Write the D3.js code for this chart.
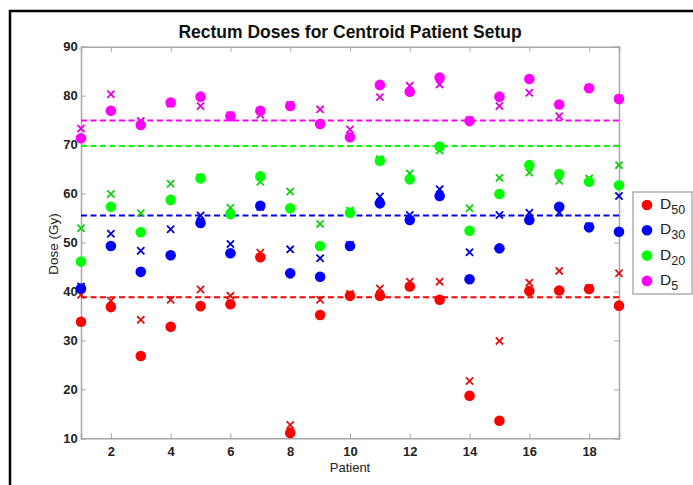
<!DOCTYPE html>
<html>
<head>
<meta charset="utf-8">
<script src="https://cdn.jsdelivr.net/npm/d3@7"></script>
<style>
  html, body { margin: 0; padding: 0; background: #fff; }
  svg { display: block; font-family: "Liberation Sans", Arial, Helvetica, sans-serif; }
</style>
</head>
<body>
<svg id="chart" width="693" height="485"></svg>
<script>
// Patients 1..19
const patients = d3.range(1, 20);

// Dose metrics (Gy) per patient: circles = centroid setup, crosses = reference plan
const d50Circle = [33.8, 36.8, 26.8, 32.8, 37.0, 37.4, 47.0, 11.1, 35.2, 39.1, 39.1, 41.0, 38.3, 18.7, 13.6, 40.1, 40.2, 40.5, 37.1];
const d50Cross  = [39.3, 38.1, 34.2, 38.3, 40.4, 39.1, 47.9, 12.7, 38.3, 39.5, 40.6, 42.0, 42.0, 21.7, 29.9, 41.8, 44.2, 40.7, 43.7];

const d30Circle = [40.6, 49.3, 44.0, 47.4, 54.0, 47.8, 57.5, 43.7, 43.0, 49.3, 58.0, 54.6, 59.5, 42.5, 48.8, 54.6, 57.3, 53.1, 52.2];
const d30Cross  = [41.0, 51.8, 48.3, 52.7, 55.5, 49.7, 57.3, 48.6, 46.8, 49.5, 59.4, 55.6, 60.9, 48.0, 55.6, 56.1, 56.1, 53.3, 59.5];

const d20Circle = [46.1, 57.3, 52.1, 58.7, 63.1, 55.8, 63.5, 57.0, 49.3, 56.1, 66.7, 62.9, 69.6, 52.4, 59.9, 65.8, 64.0, 62.4, 61.7];
const d20Cross  = [52.9, 59.9, 56.0, 62.0, 63.3, 57.1, 62.4, 60.4, 53.8, 56.5, 67.0, 64.1, 68.8, 57.0, 63.2, 64.3, 62.6, 63.1, 65.8];

const d5Circle  = [71.3, 76.9, 74.0, 78.6, 79.8, 75.8, 76.9, 77.9, 74.2, 71.5, 82.2, 80.8, 83.7, 74.8, 79.8, 83.4, 78.2, 81.5, 79.3];
const d5Cross   = [73.3, 80.3, 74.8, 78.4, 77.9, 76.0, 76.1, 78.1, 77.2, 73.1, 79.7, 82.0, 82.3, 75.0, 77.9, 80.6, 75.8, 81.6, 79.4];

// Population mean of each metric (dashed reference lines)
const meanLines = [38.8, 55.5, 69.7, 74.9];

const seriesNames = ["50", "30", "20", "5"];
const seriesColors = ["#ff0000", "#0000ff", "#00ff00", "#ff00ff"];
const crossColors  = ["#e01010", "#0000d0", "#10d010", "#e000e0"];

const xTicks = [2, 4, 6, 8, 10, 12, 14, 16, 18];
const yTicks = [10, 20, 30, 40, 50, 60, 70, 80, 90];

const series = [
  { circle: d50Circle, cross: d50Cross, mean: meanLines[0] },
  { circle: d30Circle, cross: d30Cross, mean: meanLines[1] },
  { circle: d20Circle, cross: d20Cross, mean: meanLines[2] },
  { circle: d5Circle,  cross: d5Cross,  mean: meanLines[3] }
];

const svg = d3.select("#chart");

// outer figure frame (left and top edges fall inside the view)
svg.append("rect")
  .attr("x", 10).attr("y", 11)
  .attr("width", 720).attr("height", 520)
  .attr("fill", "none").attr("stroke", "#000").attr("stroke-width", 2.5);

const plot = { left: 81, right: 619, top: 46.7, bottom: 438.3 };

const x = d3.scaleLinear().domain([1, 19]).range([plot.left, plot.right]);
const y = d3.scaleLinear().domain([10, 90]).range([plot.bottom, plot.top]);

const axisColor = "#a8a8a8";
const tickLen = 5;

// axes (box style, ticks pointing inward)
const gBottom = svg.append("g").attr("transform", `translate(0,${plot.bottom})`)
  .call(d3.axisBottom(x).tickValues(xTicks).tickSize(-tickLen).tickPadding(8).tickFormat(d3.format("d")));
const gTop = svg.append("g").attr("transform", `translate(0,${plot.top})`)
  .call(d3.axisTop(x).tickValues(xTicks).tickSize(-tickLen).tickFormat(""));
const gLeft = svg.append("g").attr("transform", `translate(${plot.left},0)`)
  .call(d3.axisLeft(y).tickValues(yTicks).tickSize(-tickLen).tickPadding(4).tickFormat(d3.format("d")));
const gRight = svg.append("g").attr("transform", `translate(${plot.right},0)`)
  .call(d3.axisRight(y).tickValues(yTicks).tickSize(-tickLen).tickFormat(""));

[gBottom, gTop, gLeft, gRight].forEach(g => {
  g.select(".domain").attr("stroke", axisColor).attr("stroke-width", 1.5);
  g.selectAll(".tick line").attr("stroke", axisColor).attr("stroke-width", 1);
  g.selectAll(".tick text")
    .attr("fill", "#222").attr("font-size", 13).attr("font-weight", "bold")
    .attr("font-family", "Liberation Sans, Arial, sans-serif");
});
gLeft.selectAll(".tick text").attr("dx", "0.05em");

// mean dashed lines
series.forEach((s, i) => {
  svg.append("line")
    .attr("x1", x(1)).attr("x2", x(19))
    .attr("y1", y(s.mean)).attr("y2", y(s.mean))
    .attr("stroke", seriesColors[i]).attr("stroke-width", 2)
    .attr("stroke-dasharray", "6,3.5");
});

// markers: crosses underneath, filled circles on top
const crossHalf = 3.6;
series.forEach((s, i) => {
  const g = svg.append("g");
  g.selectAll("path.cross")
    .data(patients.map((p, k) => ({ p, v: s.cross[k] })))
    .join("path")
    .attr("class", "cross")
    .attr("d", d => {
      const cx = x(d.p), cy = y(d.v), h = crossHalf;
      return `M${cx - h},${cy - h}L${cx + h},${cy + h}M${cx - h},${cy + h}L${cx + h},${cy - h}`;
    })
    .attr("stroke", crossColors[i]).attr("stroke-width", 1.8).attr("fill", "none");
});
series.forEach((s, i) => {
  svg.append("g").selectAll("circle")
    .data(patients.map((p, k) => ({ p, v: s.circle[k] })))
    .join("circle")
    .attr("cx", d => x(d.p)).attr("cy", d => y(d.v))
    .attr("r", 5.3)
    .attr("fill", seriesColors[i]);
});

// title and axis labels
svg.append("text")
  .attr("x", (plot.left + plot.right) / 2).attr("y", 38)
  .attr("text-anchor", "middle")
  .attr("font-size", 17.5).attr("font-weight", "bold").attr("fill", "#111")
  .text("Rectum Doses for Centroid Patient Setup");

svg.append("text")
  .attr("x", (plot.left + plot.right) / 2).attr("y", 472)
  .attr("text-anchor", "middle")
  .attr("font-size", 13).attr("fill", "#222")
  .text("Patient");

svg.append("text")
  .attr("transform", `translate(58,244) rotate(-90)`)
  .attr("text-anchor", "middle")
  .attr("font-size", 13.5).attr("fill", "#222")
  .text("Dose (Gy)");

// legend
const legend = svg.append("g").attr("transform", "translate(633,192)");
legend.append("rect")
  .attr("x", 0).attr("y", 0).attr("width", 59).attr("height", 102)
  .attr("fill", "#fff").attr("stroke", "#b0b0b0").attr("stroke-width", 1.5);
seriesNames.forEach((name, i) => {
  const ly = 13 + i * 25.3;
  legend.append("circle").attr("cx", 14).attr("cy", ly).attr("r", 5.3).attr("fill", seriesColors[i]);
  const t = legend.append("text").attr("x", 27).attr("y", ly + 4)
    .attr("font-size", 15.5).attr("fill", "#222");
  t.append("tspan").text("D");
  t.append("tspan").attr("dy", 5).attr("font-size", 12.5).text(name);
});
</script>
</body>
</html>
